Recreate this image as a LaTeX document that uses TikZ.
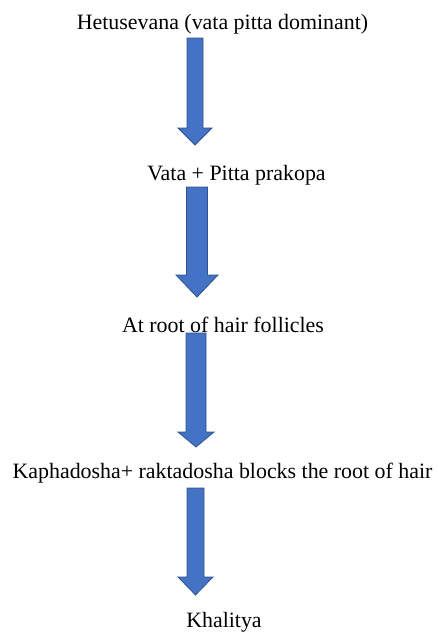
\documentclass[tikz,border=0pt]{standalone}
\usepackage{fontspec}
\setmainfont{Liberation Serif}
\definecolor{arrfill}{HTML}{4472C4}
\definecolor{arrline}{HTML}{2F528F}
\tikzset{
  lbl/.style={anchor=base, inner sep=0pt, font=\fontsize{21.9}{24}\selectfont, text=black},
  blockarr/.style={fill=arrfill, draw=arrline, line width=0.8pt, line join=miter}
}
\newcommand\blockarrow[6]{%
  \path[blockarr] (#1-#5,#2) -- (#1+#5,#2) -- (#1+#5,#3) -- (#1+#6,#3) -- (#1,#4)
    -- (#1-#6,#3) -- (#1-#5,#3) -- cycle;}
\begin{document}
\begin{tikzpicture}[x=1pt,y=-1pt]
\useasboundingbox (0,0) rectangle (437,632);
\node[lbl] (t1) at (222.5,29) {Hetusevana (vata pitta dominant)};
\node[lbl] (t2) at (236.5,180) {Vata + Pitta prakopa};
\node[lbl] (t3) at (223,332) {At root of hair follicles};
\node[lbl] (t4) at (222.5,478) {Kaphadosha+ raktadosha blocks the root of hair};
\node[lbl] (t5) at (224,627) {Khalitya};
\blockarrow{195}{38}{128}{145}{8}{17}
\blockarrow{197}{187}{275}{297}{10.5}{21}
\blockarrow{196}{333}{432}{447}{10}{18}
\blockarrow{195.5}{488}{577}{595}{8.5}{17.5}
\end{tikzpicture}
\end{document}
